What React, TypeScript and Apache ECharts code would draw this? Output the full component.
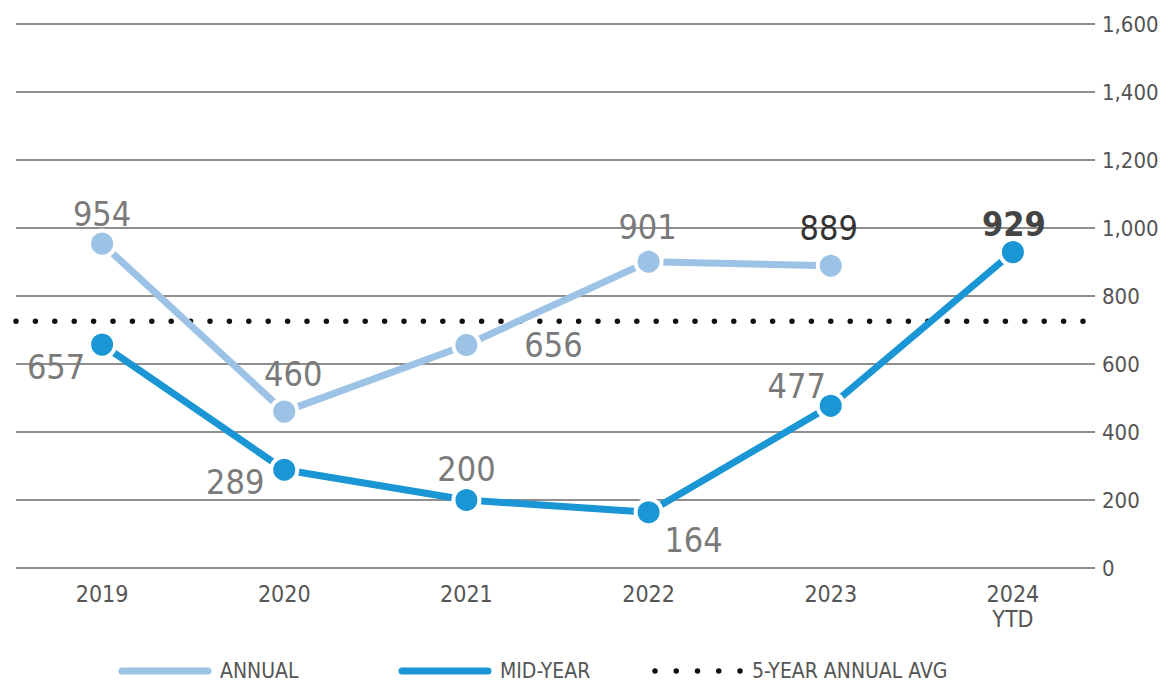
import React, { useEffect, useRef } from 'react';
import * as echarts from 'echarts';

const categories = ['2019', '2020', '2021', '2022', '2023', '2024\nYTD'];
const annualValues: (number | null)[] = [954, 460, 656, 901, 889, null];
const midYearValues: number[] = [657, 289, 200, 164, 477, 929];
const fiveYearAvg = 726;
const yMin = 0;
const yMax = 1600;
const yInterval = 200;
const legendNames = ['ANNUAL', 'MID-YEAR', '5-YEAR ANNUAL AVG'];

// label placement (style only)
const annualLabelOffsets: [number, number][] = [[0, -30], [9, -38], [87, 0], [-1, -35], [-2, -38], [0, 0]];
const midLabelOffsets: [number, number][] = [[-46, 22], [-49, 12], [0, -31], [45, 28], [-34, -20], [1, -28]];
const annualLabelColors = ['#7a7a7a', '#7a7a7a', '#7a7a7a', '#7a7a7a', '#333333', '#7a7a7a'];
const midLabelColors = ['#7a7a7a', '#7a7a7a', '#7a7a7a', '#7a7a7a', '#7a7a7a', '#444444'];
const midLabelWeights = ['normal', 'normal', 'normal', 'normal', 'normal', 'bold'];

const FONT = '"Liberation Sans Narrow", "Arial Narrow", "DejaVu Sans Condensed", sans-serif';
const ANNUAL_COLOR = '#9cc2e6';
const MID_COLOR = '#1a96d4';

export default function App() {
  const ref = useRef<HTMLDivElement>(null);

  useEffect(() => {
    if (!ref.current) return;
    const chart = echarts.init(ref.current, undefined, { renderer: 'svg' });

    const annualData = annualValues.map((v, i) => ({
      value: v,
      label: {
        show: v !== null,
        position: 'inside',
        offset: annualLabelOffsets[i],
        color: annualLabelColors[i],
        fontSize: 34,
        fontFamily: FONT,
      },
    }));
    const midData = midYearValues.map((v, i) => ({
      value: v,
      label: {
        show: true,
        position: 'inside',
        offset: midLabelOffsets[i],
        color: midLabelColors[i],
        fontWeight: midLabelWeights[i],
        fontSize: 34,
        fontFamily: FONT,
      },
    }));

    const legendY = 671;
    const legendText = (x: number, t: string) => ({
      type: 'text',
      x,
      y: legendY,
      style: {
        text: t,
        fill: '#555555',
        font: `21px ${FONT}`,
        textVerticalAlign: 'middle',
        verticalAlign: 'middle',
      },
    });

    chart.setOption({
      animation: false,
      grid: [
        { left: 16, right: 73, top: 24, bottom: 115 },
        { left: 11, right: 64, top: 24, bottom: 115 },
      ],
      xAxis: [
        { type: 'value', gridIndex: 0, min: 0, max: 1, show: false },
        {
          type: 'category',
          gridIndex: 1,
          data: categories,
          boundaryGap: true,
          axisLine: { show: false },
          axisTick: { show: false },
          splitLine: { show: false },
          axisLabel: {
            color: '#555555',
            fontSize: 23,
            lineHeight: 25,
            fontFamily: FONT,
            margin: 13,
          },
        },
      ],
      yAxis: [
        {
          type: 'value',
          gridIndex: 0,
          position: 'right',
          min: yMin,
          max: yMax,
          interval: yInterval,
          axisLine: { show: false },
          axisTick: { show: false },
          splitLine: { lineStyle: { color: '#8f8f8f', width: 2 } },
          axisLabel: {
            color: '#555555',
            fontSize: 22,
            fontFamily: FONT,
            margin: 7,
            formatter: (v: number) => v.toLocaleString('en-US'),
          },
        },
        { type: 'value', gridIndex: 1, min: yMin, max: yMax, interval: yInterval, show: false },
      ],
      series: [
        {
          name: legendNames[2],
          type: 'line',
          xAxisIndex: 0,
          yAxisIndex: 0,
          data: [[0, fiveYearAvg], [1, fiveYearAvg]],
          symbol: 'none',
          lineStyle: { color: '#111111', width: 5.5, type: [0, 19.4], cap: 'round' },
          silent: true,
          z: 1,
        },
        {
          name: legendNames[0],
          type: 'line',
          xAxisIndex: 1,
          yAxisIndex: 1,
          data: annualData,
          connectNulls: false,
          symbol: 'circle',
          symbolSize: 26,
          itemStyle: { color: ANNUAL_COLOR, borderColor: '#ffffff', borderWidth: 4 },
          lineStyle: { color: ANNUAL_COLOR, width: 7 },
          z: 3,
        },
        {
          name: legendNames[1],
          type: 'line',
          xAxisIndex: 1,
          yAxisIndex: 1,
          data: midData,
          symbol: 'circle',
          symbolSize: 26,
          itemStyle: { color: MID_COLOR, borderColor: '#ffffff', borderWidth: 4 },
          lineStyle: { color: MID_COLOR, width: 7 },
          z: 4,
        },
      ],
      graphic: [
        {
          type: 'line',
          shape: { x1: 122, y1: legendY, x2: 208, y2: legendY },
          style: { stroke: ANNUAL_COLOR, lineWidth: 7, lineCap: 'round' },
        },
        legendText(220, legendNames[0]),
        {
          type: 'line',
          shape: { x1: 402, y1: legendY, x2: 488, y2: legendY },
          style: { stroke: MID_COLOR, lineWidth: 7, lineCap: 'round' },
        },
        legendText(500, legendNames[1]),
        {
          type: 'line',
          shape: { x1: 655, y1: legendY, x2: 742, y2: legendY },
          style: { stroke: '#111111', lineWidth: 5.5, lineCap: 'round', lineDash: [0, 21.25] },
        },
        legendText(752, legendNames[2]),
      ],
    });

    return () => chart.dispose();
  }, []);

  return (
    <div
      ref={ref}
      style={{ position: 'fixed', left: 0, top: 0, width: 1168, height: 683, background: '#ffffff' }}
    />
  );
}
